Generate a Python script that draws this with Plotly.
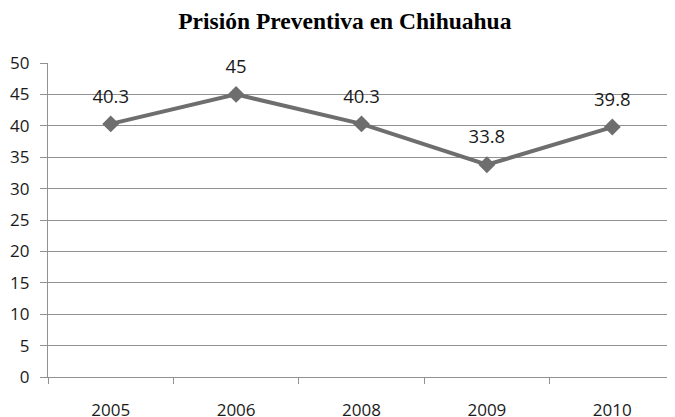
import plotly.graph_objects as go

years = ["2005", "2006", "2008", "2009", "2010"]
values = [40.3, 45, 40.3, 33.8, 39.8]
labels = ["40.3", "45", "40.3", "33.8", "39.8"]
y_ticks = [0, 5, 10, 15, 20, 25, 30, 35, 40, 45, 50]

grid = "#919191"
line_col = "#6e6e6e"
font_fam = "Open Sans"

fig = go.Figure()
fig.add_trace(go.Scatter(
    x=years, y=values, mode="lines+markers",
    line=dict(color=line_col, width=4),
    marker=dict(symbol="diamond", size=13, color=line_col),
    cliponaxis=False,
    showlegend=False,
))
# data labels (invisible marker pushes text upward)
fig.add_trace(go.Scatter(
    x=years, y=values, mode="markers+text",
    text=labels, textposition="top center",
    textfont=dict(family=font_fam, size=18.5, color="#1a1a1a"),
    marker=dict(size=25, opacity=0),
    cliponaxis=False, hoverinfo="skip",
    showlegend=False,
))

fig.update_layout(
    width=667, height=409,
    margin=dict(l=40, r=0, t=55, b=40),
    paper_bgcolor="white", plot_bgcolor="white",
    title=dict(text="<b>Prisión Preventiva en Chihuahua</b>",
               font=dict(family="Liberation Serif", size=23.5, color="black"),
               x=0.505, xanchor="center", y=0.97, yanchor="middle"),
)
fig.update_xaxes(
    type="category", range=[-0.5, 4.5], automargin=False,
    tickson="boundaries", ticks="outside", ticklen=6, tickcolor=grid,
    showgrid=False, showline=True, linecolor=grid, linewidth=1.2,
    tickfont=dict(family=font_fam, size=17, color="#1a1a1a"),
    ticklabelstandoff=17,
)
fig.update_yaxes(
    range=[0, 50], tickvals=y_ticks, automargin=False,
    ticks="outside", ticklen=7, tickcolor=grid,
    showgrid=True, gridcolor=grid, gridwidth=1.2,
    showline=True, linecolor=grid, linewidth=1.2,
    zeroline=False,
    tickfont=dict(family=font_fam, size=17, color="#1a1a1a"),
    ticklabelstandoff=7,
)

fig.write_html("out.html")
